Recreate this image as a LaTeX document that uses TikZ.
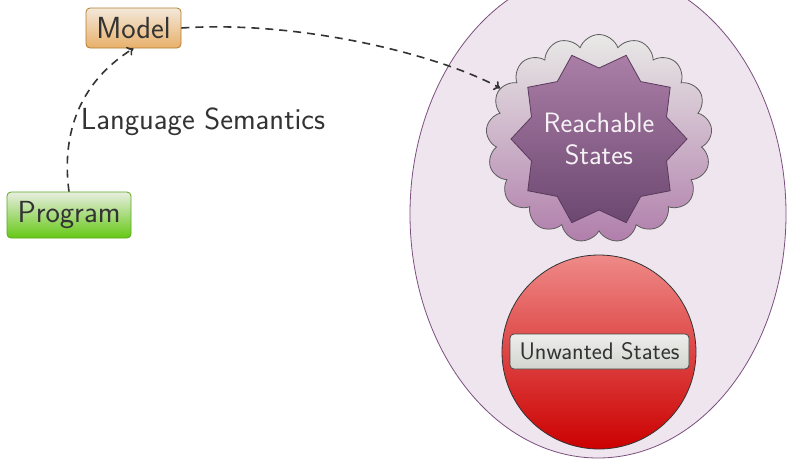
\documentclass[tikz,border=0pt]{standalone}
\usetikzlibrary{shapes.geometric,shapes.symbols,arrows.meta}

\definecolor{ink}{HTML}{333333}
\definecolor{setfill}{HTML}{EFE5EE}
\definecolor{setline}{HTML}{7B4F7E}
\definecolor{modeltop}{HTML}{F3E8DA}
\definecolor{modelbot}{HTML}{E8B06A}
\definecolor{modelline}{HTML}{B37A2E}
\definecolor{progtop}{HTML}{E8EEE0}
\definecolor{progbot}{HTML}{64C814}
\definecolor{progline}{HTML}{5BA81E}
\definecolor{cloudtop}{HTML}{E9E9E7}
\definecolor{cloudbot}{HTML}{B07EAB}
\definecolor{startop}{HTML}{AA7EA7}
\definecolor{starbot}{HTML}{6C4870}
\definecolor{starline}{HTML}{5A3A5C}
\definecolor{badtop}{HTML}{EE8A88}
\definecolor{badbot}{HTML}{CC0000}
\definecolor{tagtop}{HTML}{EEEEEC}
\definecolor{tagbot}{HTML}{D2D5CE}

\tikzset{
  bigfont/.style={font=\sffamily\fontsize{30.5}{36}\selectfont},
  box/.style={rounded corners=4pt, line width=0.8pt, inner sep=0pt, bigfont, text=ink},
  modelbox/.style={box, draw=modelline, top color=modeltop, bottom color=modelbot,
    minimum width=95pt, minimum height=40pt},
  progbox/.style={box, draw=progline, top color=progtop, bottom color=progbot,
    minimum width=124pt, minimum height=46pt},
  flow/.style={draw=ink, line width=1.6pt, dash pattern=on 8pt off 6pt, -{To[length=6pt,width=10pt]}},
}

\begin{document}
\begin{tikzpicture}[x=1pt, y=-1pt]
  \useasboundingbox (0,0) rectangle (787,459);
  \clip (0,0) rectangle (787,459);

  % state space
  \draw[setline, fill=setfill, line width=0.8pt] (598,214) ellipse [x radius=188pt, y radius=244pt];

  % reachable states: cloud with a star inside, label set on top
  \node[cloud, cloud puffs=17, cloud puff arc=140, draw=ink!80, line width=0.8pt,
        top color=cloudtop, bottom color=cloudbot,
        minimum width=226pt, minimum height=208pt, inner sep=0pt] (cloud) at (599,138.5) {};
  \node[star, star points=10, star point ratio=1.24, shape border rotate=18,
        minimum size=176pt, inner sep=0pt, draw=starline, line width=0.8pt,
        top color=startop, bottom color=starbot] (reach) at (599,139) {};
  \node[font=\sffamily\fontsize{28}{32}\selectfont, text=white!90!startop, align=center]
        (reachtext) at (reach.center) {Reachable\\States};

  % unwanted states
  \node[circle, minimum size=194pt, draw=ink, line width=0.8pt,
        top color=badtop, bottom color=badbot] (bad) at (599,352) {};
  \node[rounded corners=4pt, draw=ink!90, line width=0.8pt, top color=tagtop, bottom color=tagbot,
        minimum width=179pt, minimum height=35pt, inner sep=0pt,
        font=\sffamily\fontsize{24}{28}\selectfont, text=ink] (tag) at (599.5,351.5) {Unwanted States};

  % program and model
  \node[progbox] (prog) at (69,215) {Program};
  \node[modelbox] (model) at (133.5,28) {Model};

  \draw[flow] (prog.north) .. controls (62,140) and (75,85) .. (model.south)
    node[pos=0.45, right, bigfont, text=ink, inner sep=6pt] (sem) {Language Semantics};
  \draw[flow] (model.east) .. controls (300,20) and (440,55) .. (cloud.153);
\end{tikzpicture}
\end{document}
